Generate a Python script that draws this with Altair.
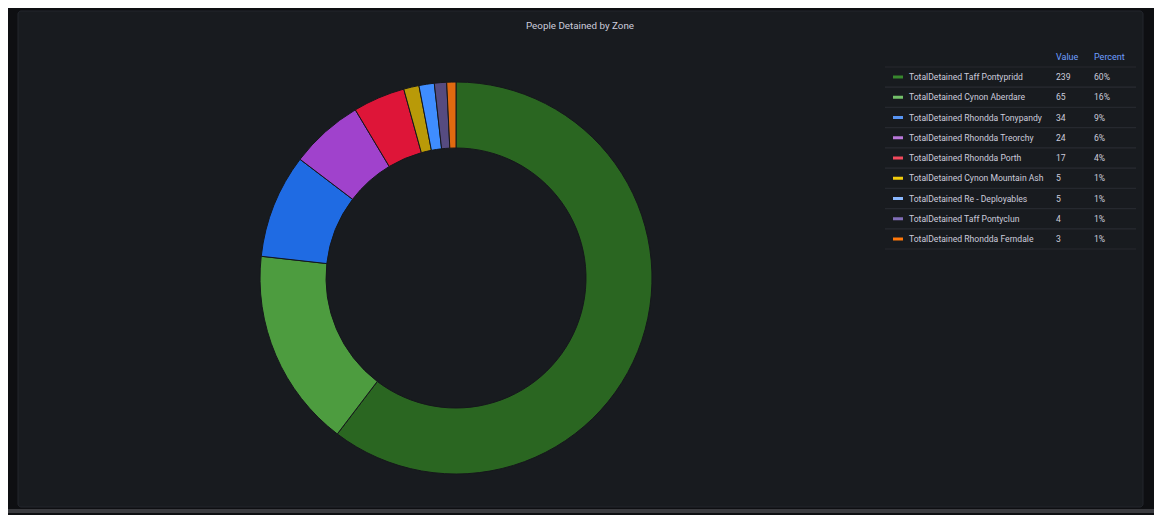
import altair as alt
import pandas as pd

# ---- data ----
names = [
    "TotalDetained Taff Pontypridd",
    "TotalDetained Cynon Aberdare",
    "TotalDetained Rhondda Tonypandy",
    "TotalDetained Rhondda Treorchy",
    "TotalDetained Rhondda Porth",
    "TotalDetained Cynon Mountain Ash",
    "TotalDetained Re - Deployables",
    "TotalDetained Taff Pontyclun",
    "TotalDetained Rhondda Ferndale",
]
values = [239, 65, 34, 24, 17, 5, 5, 4, 3]
percents = ["60%", "16%", "9%", "6%", "4%", "1%", "1%", "1%", "1%"]
slice_colors = ["#2a6621", "#4d9c3f", "#1f6be3", "#a042cc", "#de1538",
                "#b99a08", "#3f8dff", "#564b80", "#e06a10"]
legend_colors = ["#37872D", "#73BF69", "#5794F2", "#B877D9", "#F2495C",
                 "#F2CC0C", "#8AB8FF", "#806EB7", "#FF780A"]

df = pd.DataFrame({
    "name": names,
    "value": values,
    "percent": percents,
    "order": list(range(len(names))),
    "valtxt": [str(v) for v in values],
})

W, H = 1146, 507
OX, OY = 8, 8  # page offset
FONT = "Roboto, sans-serif"
TXT = "#ccccdc"
FS = 8.6

base = alt.Chart(df)

# background panel
panel = alt.Chart(pd.DataFrame({"k": [0]})).mark_rect(
    color="#181b1f", stroke="#23262c", strokeWidth=1, cornerRadius=3
).encode(
    x=alt.value(18 - OX), x2=alt.value(1143 - OX),
    y=alt.value(11 - OY), y2=alt.value(507 - OY),
)
bottom_bar = alt.Chart(pd.DataFrame({"k": [0]})).mark_rect(color="#3a3b3f").encode(
    x=alt.value(0), x2=alt.value(W),
    y=alt.value(509 - OY), y2=alt.value(513 - OY),
)

title = alt.Chart(pd.DataFrame({"t": ["People Detained by Zone"]})).mark_text(
    font=FONT, fontSize=9.8, color=TXT, align="center", baseline="middle"
).encode(text="t:N", x=alt.value(580 - OX), y=alt.value(26 - OY))

# donut
donut = base.mark_arc(
    innerRadius=130, outerRadius=196, stroke="#15171b", strokeWidth=1
).encode(
    theta=alt.Theta("value:Q", stack=True),
    order=alt.Order("order:Q"),
    color=alt.Color("name:N", scale=alt.Scale(domain=names, range=slice_colors), legend=None),
    x=alt.value(456 - OX), y=alt.value(278 - OY),
)

# legend table
yscale = alt.Scale(type="point", domain=names, range=[77 - OY, 239 - OY], padding=0)
Y = alt.Y("name:N", scale=yscale, axis=None)

sep_top = base.mark_rule(color="#26292f", strokeWidth=1).encode(
    y=Y, yOffset=alt.value(-10), x=alt.value(885 - OX), x2=alt.value(1136 - OX)
)
sep_bot = base.mark_rule(color="#26292f", strokeWidth=1).encode(
    y=Y, yOffset=alt.value(10), x=alt.value(885 - OX), x2=alt.value(1136 - OX)
)
dash = base.mark_rule(strokeWidth=3).encode(
    y=Y, x=alt.value(893 - OX), x2=alt.value(903 - OX),
    color=alt.Color("name:N", scale=alt.Scale(domain=names, range=legend_colors), legend=None),
)
name_txt = base.mark_text(font=FONT, fontSize=FS, color=TXT, align="left", baseline="middle").encode(
    y=Y, x=alt.value(909 - OX), text="name:N"
)
val_txt = base.mark_text(font=FONT, fontSize=FS, color=TXT, align="left", baseline="middle").encode(
    y=Y, x=alt.value(1056 - OX), text="valtxt:N"
)
pct_txt = base.mark_text(font=FONT, fontSize=FS, color=TXT, align="left", baseline="middle").encode(
    y=Y, x=alt.value(1094 - OX), text="percent:N"
)
headers = alt.Chart(pd.DataFrame({"h": ["Value", "Percent"], "hx": [1056 - OX, 1094 - OX]})).mark_text(
    font=FONT, fontSize=9, color="#6e9fff", align="left", baseline="middle"
).encode(text="h:N", x=alt.X("hx:Q", scale=None, axis=None), y=alt.value(57 - OY))

chart = alt.layer(
    panel, bottom_bar, title, donut, sep_top, sep_bot, dash, name_txt, val_txt, pct_txt, headers
).resolve_scale(color="independent").properties(
    width=W, height=H, padding=0,
    autosize=alt.AutoSizeParams(type="fit", contains="padding"),
    background="#0e0f12",
).configure_view(stroke=None)

chart.save("out.html", embed_options={"renderer": "svg", "actions": False})
